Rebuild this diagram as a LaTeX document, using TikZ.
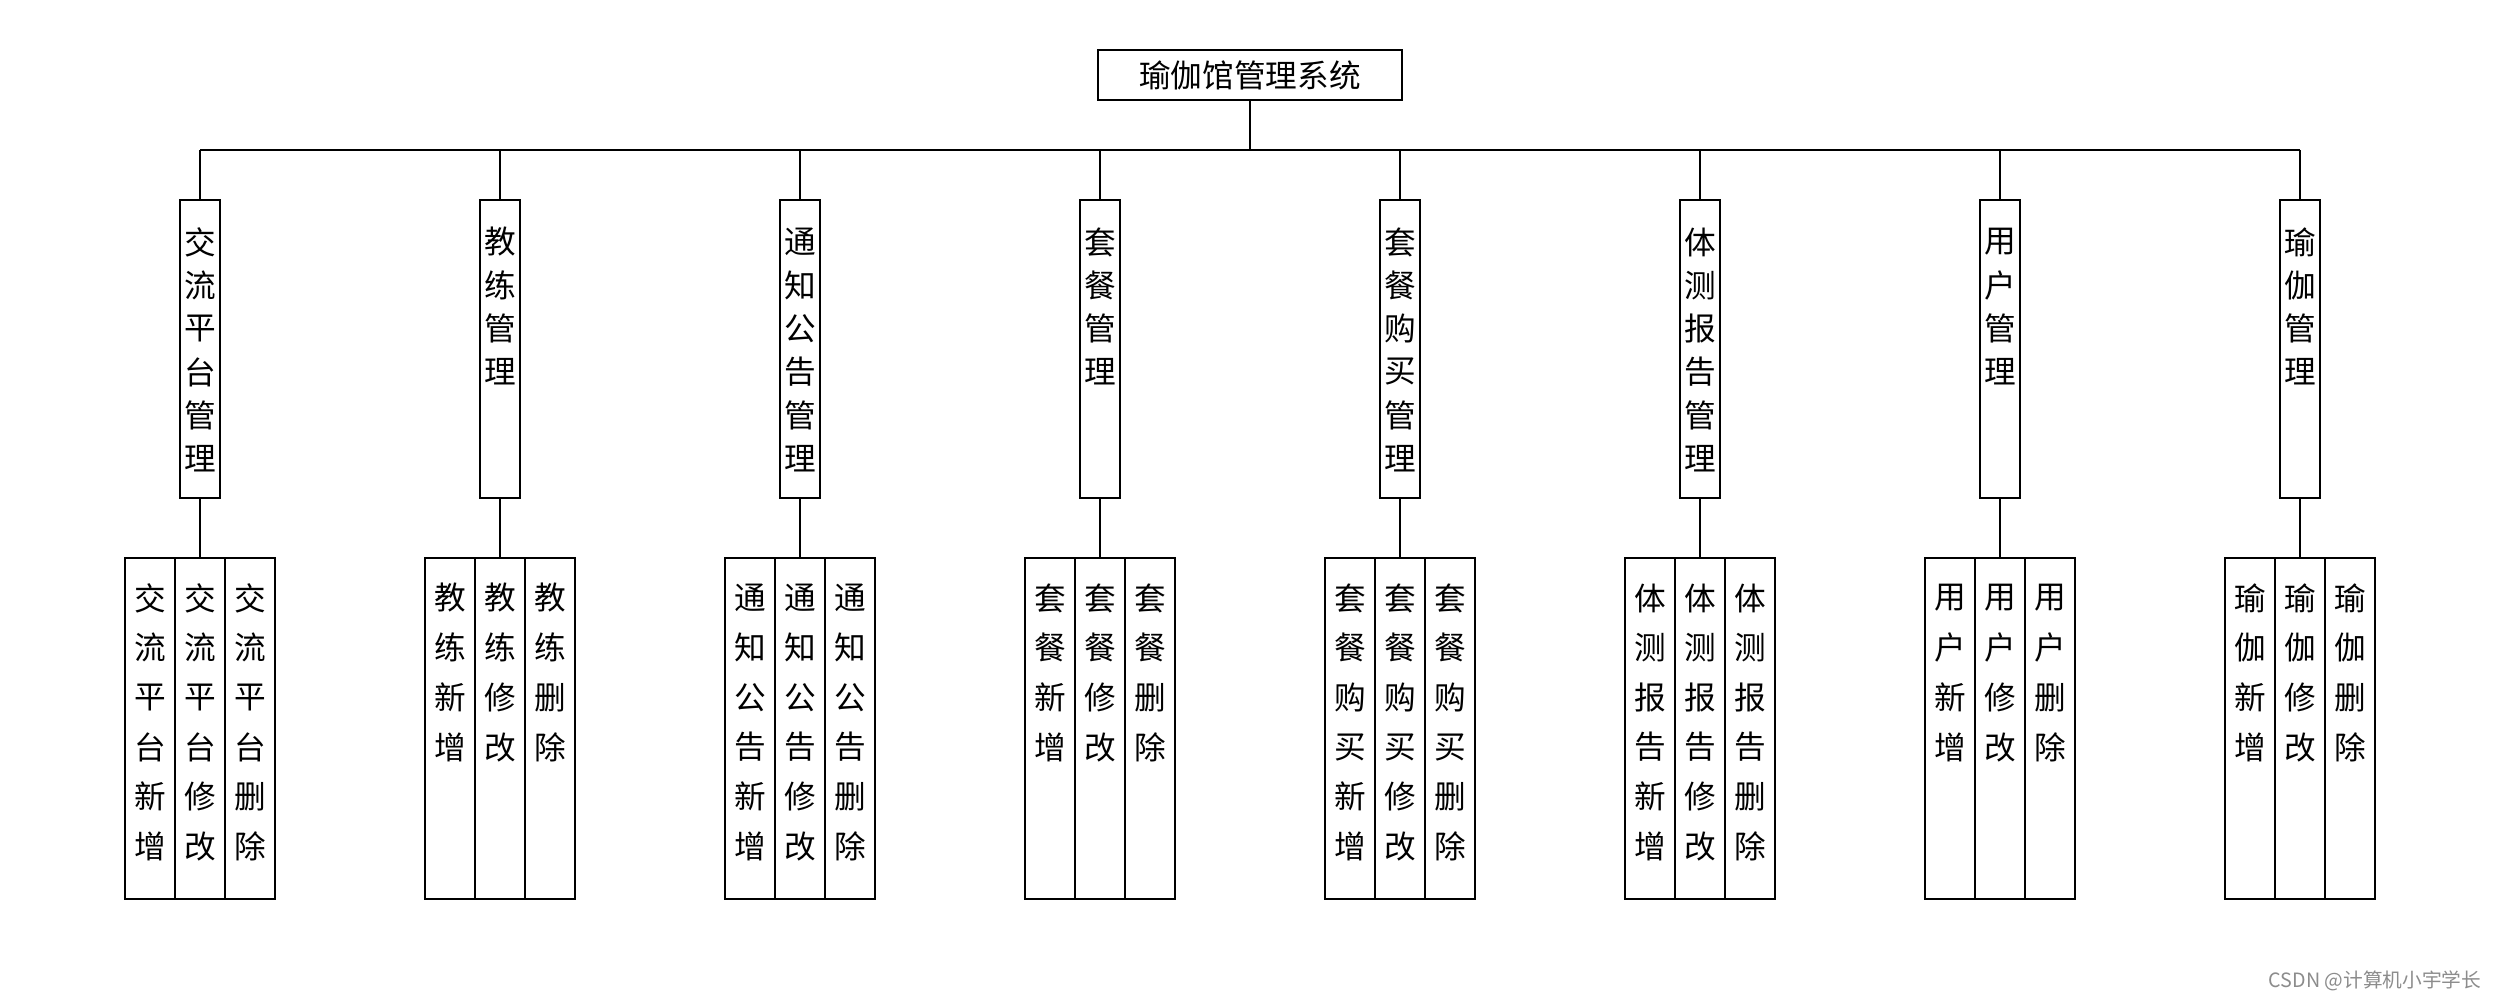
\documentclass[tikz,border=0pt]{standalone}
\usepackage{fontspec}
\newfontfamily\cjk{Noto Sans CJK SC}
\tikzset{
  line/.style={draw=black, line width=0.6pt},
  topbox/.style={line, rectangle, minimum width=3.04cm, minimum height=0.5cm, inner sep=0pt, font=\cjk\fontsize{9pt}{11pt}\selectfont},
  midbox/.style={line, rectangle, minimum width=0.4cm, minimum height=2.98cm, inner sep=0pt},
  leafbox/.style={line, rectangle, minimum width=0.5cm, minimum height=3.41cm, inner sep=0pt},
  ch/.style={inner sep=0pt, font=\cjk\fontsize{9pt}{11pt}\selectfont},
  wm/.style={inner sep=0pt, text=black!45, font=\cjk\fontsize{5.6pt}{7pt}\selectfont}
}
\newcommand\modcol[3]{%
  \node[midbox] (m#1) at (#2,349) {};
  \foreach \c [count=\i] in {#3,管,理} \node[ch] (m#1c\i) at (#2, 242+43.3*\i-43.3) {\c};
  \node[leafbox] (l#1a) at (#2-50,728.5) {};
  \node[leafbox] (l#1b) at (#2,728.5) {};
  \node[leafbox] (l#1c) at (#2+50,728.5) {};
  \foreach \c [count=\i] in {#3,新,增} \node[ch] (l#1a\i) at (#2-50, 598+49.7*\i-49.7) {\c};
  \foreach \c [count=\i] in {#3,修,改} \node[ch] (l#1b\i) at (#2, 598+49.7*\i-49.7) {\c};
  \foreach \c [count=\i] in {#3,删,除} \node[ch] (l#1c\i) at (#2+50, 598+49.7*\i-49.7) {\c};
  \draw[line] (m#1.north) -- (m#1.north |- bus);
  \draw[line] (m#1.south) -- (l#1b.north);
}
\begin{document}
\begin{tikzpicture}[x=0.01cm, y=-0.01cm]
\useasboundingbox[fill=white] (0,0) rectangle (2500,1000);
\node[topbox] (top) at (1250,75) {瑜伽馆管理系统};
\coordinate (bus) at (1250,150);
\draw[line] (top.south) -- (bus);
\modcol{1}{200}{交,流,平,台}
\modcol{2}{500}{教,练}
\modcol{3}{800}{通,知,公,告}
\modcol{4}{1100}{套,餐}
\modcol{5}{1400}{套,餐,购,买}
\modcol{6}{1700}{体,测,报,告}
\modcol{7}{2000}{用,户}
\modcol{8}{2300}{瑜,伽}
\draw[line] (m1.north |- bus) -- (m8.north |- bus);
\node[wm, anchor=east] (wmark) at (2482,981) {CSDN @计算机小宇学长};
\end{tikzpicture}
\end{document}
